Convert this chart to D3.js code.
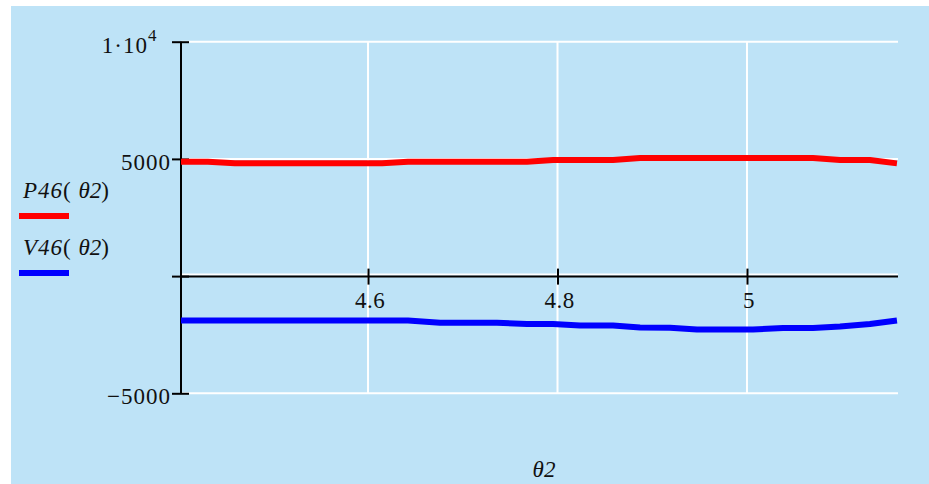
<!DOCTYPE html>
<html><head><meta charset="utf-8">
<script src="https://cdn.jsdelivr.net/npm/d3@7"></script>
<style>
html,body{margin:0;padding:0;background:#fff;}
svg text{font-family:"Liberation Serif","Times New Roman",serif;fill:#111;}
</style></head>
<body>
<svg id="chart" width="929" height="484"></svg>
<script>
// ---- data ----
const thetaP = [4.4026, 4.4310, 4.4595, 4.6148, 4.6422, 4.7678, 4.7953, 4.8586, 4.8871, 5.0697, 5.0982, 5.1298, 5.1583];
const P46    = [4880, 4880, 4810, 4810, 4880, 4880, 4950, 4950, 5040, 5040, 4950, 4950, 4810];
const thetaV = [4.4026, 4.6422, 4.6760, 4.7361, 4.7678, 4.7953, 4.8237, 4.8586, 4.8871, 4.9187, 4.9472, 5.0063, 5.0380, 5.0697, 5.0982, 5.1298, 5.1583];
const V46    = [-1890, -1890, -1990, -1990, -2045, -2045, -2110, -2110, -2195, -2200, -2280, -2280, -2215, -2215, -2150, -2045, -1895];
const xTicks = [4.6, 4.8, 5];
const xTickLabels = ["4.6", "4.8", "5"];
const yTicks = [-5000, 0, 5000, 10000];
const yTickLabels = ["\u22125000", "", "5000", "1\u00B710"];
const seriesNames = ["P46", "V46"];
const seriesColors = ["#ff0000", "#0000ff"];
const xDomain = [4.4026, 5.1594];
const yDomain = [-5000, 10000];

// ---- drawing ----
const svg = d3.select("#chart");
svg.append("rect").attr("x", 11).attr("y", 6).attr("width", 918).attr("height", 478).attr("fill", "#bee3f7");

const x = d3.scaleLinear().domain(xDomain).range([181, 898]);
const y = d3.scaleLinear().domain(yDomain).range([393.3, 41.7]);

const fontSize = 23, ff = '"Liberation Serif", "Times New Roman", serif';

// grid
const g = svg.append("g");
g.selectAll("line.hg").data(yTicks).join("line")
  .attr("x1", x(xDomain[0])).attr("x2", x(xDomain[1]))
  .attr("y1", d => d === 0 ? y(d) - 1.5 : y(d)).attr("y2", d => d === 0 ? y(d) - 1.5 : y(d))
  .attr("stroke", "#fff").attr("stroke-width", 2);
g.selectAll("line.vg").data(xTicks).join("line")
  .attr("x1", d => x(d)).attr("x2", d => x(d))
  .attr("y1", y(yDomain[1])).attr("y2", y(yDomain[0]))
  .attr("stroke", "#fff").attr("stroke-width", 2);

// y axis
const yAxis = svg.append("g").attr("transform", `translate(${x(xDomain[0])},0)`)
  .call(d3.axisLeft(y).tickValues(yTicks).tickSize(8).tickFormat((d, i) => yTickLabels[i]));
yAxis.attr("font-family", null).attr("font-size", null);
yAxis.select(".domain").attr("stroke", "#000").attr("stroke-width", 2)
  .attr("d", `M0,${y(yDomain[1])}V${y(yDomain[0])}`);
yAxis.selectAll(".tick line").attr("x1", -9).attr("x2", 8).attr("stroke", "#000").attr("stroke-width", 2);
yAxis.selectAll(".tick text")
  .attr("x", -10).attr("dy", null).attr("y", 10.5)
  .style("font-size", fontSize + "px").style("letter-spacing", "1px").attr("fill", "#111")
  .style("font-family", ff);
yAxis.selectAll(".tick").filter(d => d === 10000).select("text")
  .attr("x", -33);
yAxis.selectAll(".tick").filter(d => d === 10000).append("text")
  .attr("x", -33).attr("y", -1).attr("text-anchor", "start")
  .style("font-size", "17px").style("font-family", ff).attr("fill", "#111")
  .text("4");

// x axis
const xAxis = svg.append("g").attr("transform", `translate(0,${y(0) + 0.5})`)
  .call(d3.axisBottom(x).tickValues(xTicks).tickSize(8).tickFormat((d, i) => xTickLabels[i]));
xAxis.attr("font-family", null).attr("font-size", null);
xAxis.select(".domain").attr("stroke", "#000").attr("stroke-width", 2)
  .attr("d", `M${x(xDomain[0])},0H${x(xDomain[1])}`);
xAxis.selectAll(".tick line").attr("y1", -8).attr("y2", 8).attr("stroke", "#000").attr("stroke-width", 2);
xAxis.selectAll(".tick text")
  .attr("y", 31.5).attr("dy", null).attr("x", 1.5)
  .style("font-size", fontSize + "px").style("letter-spacing", "0.5px").attr("fill", "#111")
  .style("font-family", ff);

// series
const line = d3.line().x(d => x(d[0])).y(d => y(d[1]));
const series = [d3.zip(thetaP, P46), d3.zip(thetaV, V46)];
svg.selectAll("path.series").data(series).join("path")
  .attr("class", "series")
  .attr("d", line).attr("fill", "none")
  .attr("stroke", (d, i) => seriesColors[i]).attr("stroke-width", 6)
  .attr("stroke-linejoin", "round");

// legend
const legY = [198, 255];
seriesNames.forEach((name, i) => {
  const t = svg.append("text").attr("x", 23).attr("y", legY[i])
    .style("font-size", fontSize + "px").style("font-family", ff).style("letter-spacing", "1px");
  t.append("tspan").style("font-style", "italic").text(name);
  t.append("tspan").text("( ");
  t.append("tspan").style("font-style", "italic").style("letter-spacing", "0px").text("\u03B82");
  t.append("tspan").text(")");
  svg.append("line").attr("x1", 19).attr("x2", 69)
    .attr("y1", legY[i] + 18).attr("y2", legY[i] + 18)
    .attr("stroke", seriesColors[i]).attr("stroke-width", 6);
});

// x axis title
svg.append("text").attr("x", 544).attr("y", 477).attr("text-anchor", "middle")
  .style("font-size", fontSize + "px").style("font-family", ff).style("font-style", "italic").text("\u03B82");
</script>
</body></html>
